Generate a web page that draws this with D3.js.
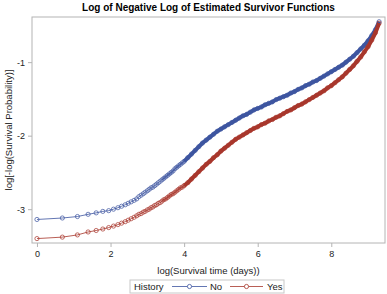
<!DOCTYPE html>
<html lang="en">
<head>
    <meta charset="UTF-8">
    <title>Log of Negative Log of Estimated Survivor Functions</title>
    <script src="https://d3js.org/d3.v7.min.js"></script>
    <style>
        body { margin: 0; font-family: "Liberation Sans", Arial, sans-serif; background: #fff; }
        .tick text { font-size: 9px; fill: #222; }
    </style>
</head>
<body>
    <svg width="387" height="294"></svg>
    <script>
        // log(survival time) values shared by both groups
        const logTime = [0, 0.69, 1.1, 1.39, 1.61, 1.79, 1.95, 2.08, 2.2, 2.3, 2.4, 2.48, 2.56, 2.64, 2.71, 2.77, 2.83, 2.89, 2.94, 3.0,
            3.05, 3.1, 3.15, 3.2, 3.25, 3.3, 3.35, 3.4, 3.45, 3.5, 3.55, 3.6, 3.65, 3.7, 3.75, 3.8, 3.85, 3.9, 3.95, 4.0,
            4.1, 4.2, 4.3, 4.4, 4.5, 4.6, 4.7, 4.8, 4.9, 5.0, 5.1, 5.2, 5.3, 5.4, 5.5, 5.6, 5.7, 5.8, 5.9, 6.0,
            6.1, 6.2, 6.3, 6.4, 6.5, 6.6, 6.7, 6.8, 6.9, 7.0, 7.1, 7.2, 7.3, 7.4, 7.5, 7.6, 7.7, 7.8, 7.9, 8.0,
            8.1, 8.2, 8.3, 8.4, 8.5, 8.6, 8.7, 8.8, 8.9, 9.0, 9.1, 9.2, 9.3];

        const historyNo = [-3.14, -3.12, -3.10, -3.07, -3.05, -3.03, -3.02, -3.00, -2.98, -2.96, -2.94, -2.92, -2.90, -2.88, -2.86, -2.83, -2.81, -2.79, -2.77, -2.75,
            -2.73, -2.71, -2.70, -2.68, -2.66, -2.64, -2.62, -2.60, -2.58, -2.56, -2.54, -2.52, -2.50, -2.48, -2.45, -2.43, -2.41, -2.39, -2.37, -2.35,
            -2.30, -2.25, -2.20, -2.15, -2.10, -2.06, -2.02, -1.98, -1.94, -1.91, -1.88, -1.85, -1.82, -1.79, -1.76, -1.73, -1.71, -1.68, -1.65, -1.63,
            -1.61, -1.58, -1.56, -1.54, -1.51, -1.49, -1.47, -1.45, -1.42, -1.40, -1.37, -1.35, -1.32, -1.30, -1.27, -1.25, -1.22, -1.19, -1.16, -1.13,
            -1.10, -1.07, -1.04, -1.00, -0.96, -0.92, -0.87, -0.82, -0.77, -0.71, -0.64, -0.56, -0.45];

        const historyYes = [-3.40, -3.38, -3.35, -3.31, -3.29, -3.27, -3.25, -3.23, -3.21, -3.19, -3.17, -3.15, -3.13, -3.11, -3.09, -3.07, -3.06, -3.04, -3.03, -3.01,
            -3.00, -2.98, -2.97, -2.95, -2.94, -2.92, -2.91, -2.89, -2.87, -2.86, -2.84, -2.82, -2.80, -2.79, -2.77, -2.75, -2.73, -2.71, -2.70, -2.68,
            -2.64, -2.59, -2.54, -2.49, -2.44, -2.39, -2.35, -2.30, -2.26, -2.21, -2.17, -2.13, -2.09, -2.05, -2.02, -1.99, -1.96, -1.93, -1.90, -1.88,
            -1.85, -1.83, -1.80, -1.78, -1.75, -1.73, -1.70, -1.67, -1.65, -1.62, -1.59, -1.57, -1.54, -1.51, -1.48, -1.45, -1.42, -1.39, -1.35, -1.32,
            -1.28, -1.24, -1.20, -1.15, -1.10, -1.05, -0.99, -0.93, -0.86, -0.79, -0.70, -0.60, -0.47];

        const groups = ["No", "Yes"];
        const colors = ["#3d55a0", "#a8372c"];
        const xTicks = [0, 2, 4, 6, 8];
        const yTicks = [-3, -2, -1];

        const series = [historyNo, historyYes].map((ys, i) => ({
            name: groups[i],
            color: colors[i],
            values: logTime.map((x, j) => ({ x: x, y: ys[j] }))
        }));

        const margin = { top: 17, right: 2, bottom: 51, left: 32 },
            width = 387 - margin.left - margin.right,
            height = 294 - margin.top - margin.bottom;

        const svg = d3.select("svg");
        const g = svg.append("g").attr("transform", `translate(${margin.left},${margin.top})`);

        const x = d3.scaleLinear().domain([-0.135, 9.46]).range([0, width]);
        const y = d3.scaleLinear().domain([-3.46, -0.386]).range([height, 0]);

        // frame
        g.append("rect")
            .attr("width", width).attr("height", height)
            .attr("fill", "none").attr("stroke", "#b4b4b4");

        const xAxis = g.append("g").attr("transform", `translate(0,${height})`)
            .call(d3.axisBottom(x).tickValues(xTicks).tickFormat(d => String(d)).tickSize(4).tickPadding(4));
        const yAxis = g.append("g")
            .call(d3.axisLeft(y).tickValues(yTicks).tickFormat(d => String(d)).tickSize(4).tickPadding(3));
        [xAxis, yAxis].forEach(a => {
            a.select(".domain").remove();
            a.selectAll(".tick line").attr("stroke", "#b4b4b4");
        });

        const line = d3.line().x(d => x(d.x)).y(d => y(d.y));

        series.forEach(s => {
            // dense part of the curve where markers merge into a band
            g.append("path")
                .datum(s.values.filter(d => d.x >= 3.4))
                .attr("d", line)
                .attr("fill", "none")
                .attr("stroke", s.color)
                .attr("stroke-opacity", 0.6)
                .attr("stroke-width", 2.5);
            g.append("path")
                .datum(s.values.filter(d => d.x >= 4.0))
                .attr("d", line)
                .attr("fill", "none")
                .attr("stroke", s.color)
                .attr("stroke-width", 4)
                .attr("stroke-linejoin", "round");
            g.append("path")
                .datum(s.values)
                .attr("d", line)
                .attr("fill", "none")
                .attr("stroke", s.color)
                .attr("stroke-opacity", 0.8)
                .attr("stroke-width", 1);
            g.selectAll(null)
                .data(s.values)
                .enter().append("circle")
                .attr("cx", d => x(d.x))
                .attr("cy", d => y(d.y))
                .attr("r", 2.1)
                .attr("fill", "none")
                .attr("stroke", s.color)
                .attr("stroke-opacity", 0.8)
                .attr("stroke-width", 0.9);
        });

        // titles
        svg.append("text")
            .attr("x", margin.left + width / 2).attr("y", 11)
            .attr("text-anchor", "middle")
            .style("font-size", "10px").style("font-weight", "bold")
            .text("Log of Negative Log of Estimated Survivor Functions");

        svg.append("text")
            .attr("x", margin.left + width / 2).attr("y", 274)
            .attr("text-anchor", "middle")
            .style("font-size", "9.5px").attr("fill", "#222")
            .text("log(Survival time (days))");

        svg.append("text")
            .attr("transform", `translate(12,${margin.top + height / 2}) rotate(-90)`)
            .attr("text-anchor", "middle")
            .style("font-size", "9.5px").attr("fill", "#222")
            .text("log[-log(Survival Probability)]");

        // legend
        const lg = svg.append("g").attr("transform", "translate(130,280)");
        lg.append("rect").attr("width", 154).attr("height", 13)
            .attr("fill", "#fff").attr("stroke", "#c8c8c8");
        lg.append("text").attr("x", 4).attr("y", 10)
            .style("font-size", "9.5px").attr("fill", "#222").text("History");
        const items = [{ x0: 42, x1: 77, tx: 80 }, { x0: 100, x1: 133, tx: 137 }];
        series.forEach((s, i) => {
            const it = items[i];
            lg.append("line").attr("x1", it.x0).attr("x2", it.x1)
                .attr("y1", 6.5).attr("y2", 6.5)
                .attr("stroke", s.color).attr("stroke-opacity", 0.8);
            lg.append("circle").attr("cx", (it.x0 + it.x1) / 2).attr("cy", 6.5).attr("r", 2.1)
                .attr("fill", "#fff").attr("stroke", s.color).attr("stroke-opacity", 0.8);
            lg.append("text").attr("x", it.tx).attr("y", 10)
                .style("font-size", "9.5px").attr("fill", "#222").text(s.name);
        });
    </script>
</body>
</html>
